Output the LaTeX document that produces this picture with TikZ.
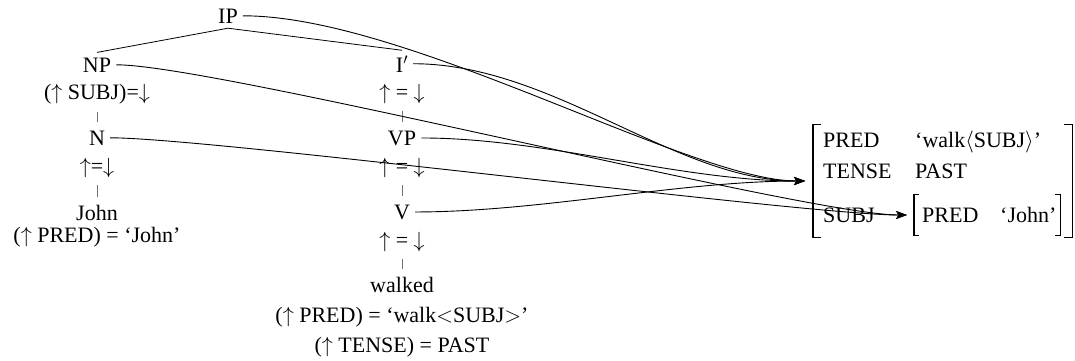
\documentclass[tikz,border=0pt]{standalone}
\usepackage{fix-cm}
\usepackage{fontspec}
\setmainfont{Liberation Serif}
\usetikzlibrary{arrows.meta}
\begin{document}
\begin{tikzpicture}[x=1pt,y=-1pt,
  every node/.style={font=\fontsize{22}{26}\selectfont, inner sep=5pt},
  cat/.style={anchor=base},
  ann/.style={anchor=base},
  treeedge/.style={line width=0.8pt},
  tick/.style={draw=black!55, line width=0.8pt, shorten <=3pt, shorten >=3pt},
  corr/.style={line width=0.9pt, -{Stealth[length=11pt,width=8pt,inset=2.5pt]}},
  brk/.style={line width=1.2pt},
  avm/.style={anchor=base west, inner sep=0pt},
]
\useasboundingbox (0,0) rectangle (1075,360);
% c-structure
\node[cat] (IP) at (228,23) {IP};
\node[cat] (NP) at (97,72) {NP};
\node[cat] (Ib) at (402,72) {I$'$};
\node[ann] (a1) at (97,99) {($\uparrow$ SUBJ)=$\downarrow$};
\node[ann] (a2) at (402,99) {$\uparrow$ = $\downarrow$};
\node[cat] (N) at (97,145) {N};
\node[cat] (VP) at (402,145) {VP};
\node[ann] (a3) at (97,173) {$\uparrow$=$\downarrow$};
\node[ann] (a4) at (402,173) {$\uparrow$ = $\downarrow$};
\node[cat] (John) at (97,220) {John};
\node[cat] (V) at (402,219) {V};
\node[ann] (a5) at (97,242) {($\uparrow$ PRED) = `John'};
\node[ann] (a6) at (402,247) {$\uparrow$ = $\downarrow$};
\node[cat] (walked) at (402,292) {walked};
\node[ann] (a7) at (402,322) {($\uparrow$ PRED) = `walk$<$SUBJ$>$'};
\node[ann] (a8) at (402,352) {($\uparrow$ TENSE) = PAST};
\draw[treeedge] (IP.south) -- (NP.north);
\draw[treeedge] (IP.south) -- (Ib.north);
\draw[tick] (a1.south) -- (N.north);
\draw[tick] (a3.south) -- (John.north);
\draw[tick] (a2.south) -- (VP.north);
\draw[tick] (a4.south) -- (V.north);
\draw[tick] (a6.south) -- (walked.north);
% f-structure
\node[inner sep=0pt, minimum width=275pt, minimum height=112pt, anchor=west] (F) at (805,181) {};
\node[inner sep=0pt, minimum width=160pt, minimum height=40pt, anchor=west] (G) at (907,215) {};
\draw[brk] ([xshift=16pt]F.north west) -- ([xshift=8pt]F.north west) -- ([xshift=8pt]F.south west) -- ([xshift=16pt]F.south west);
\draw[brk] ([xshift=-16pt]F.north east) -- ([xshift=-8pt]F.north east) -- ([xshift=-8pt]F.south east) -- ([xshift=-16pt]F.south east);
\draw[brk] ([xshift=12pt]G.north west) -- ([xshift=7pt]G.north west) -- ([xshift=7pt]G.south west) -- ([xshift=12pt]G.south west);
\draw[brk] ([xshift=-12pt]G.north east) -- ([xshift=-7pt]G.north east) -- ([xshift=-7pt]G.south east) -- ([xshift=-12pt]G.south east);
\node[avm] (p1) at (823,147) {PRED};
\node[avm] (v1) at (915,147) {`walk$\langle$SUBJ$\rangle$'};
\node[avm] (p2) at (823,178) {TENSE};
\node[avm] (v2) at (915,178) {PAST};
\node[avm] (p3) at (823,222) {SUBJ};
\node[avm] (p4) at (922,222) {PRED};
\node[avm] (v4) at (1000,222) {`John'};
% correspondence arrows
\draw[corr] (IP.east) .. controls +(165,0) and +(-115,0) .. (F.west);
\draw[corr] (Ib.east) .. controls +(140,0) and +(-130,0) .. (F.west);
\draw[corr] (VP.east) .. controls +(125,0) and +(-125,0) .. (F.west);
\draw[corr] (V.east) .. controls +(125,0) and +(-125,0) .. (F.west);
\draw[corr] (NP.east) .. controls +(100,0) and +(-100,0) .. (G.west);
\draw[corr] (N.east) .. controls +(100,0) and +(-100,0) .. (G.west);
\end{tikzpicture}
\end{document}
